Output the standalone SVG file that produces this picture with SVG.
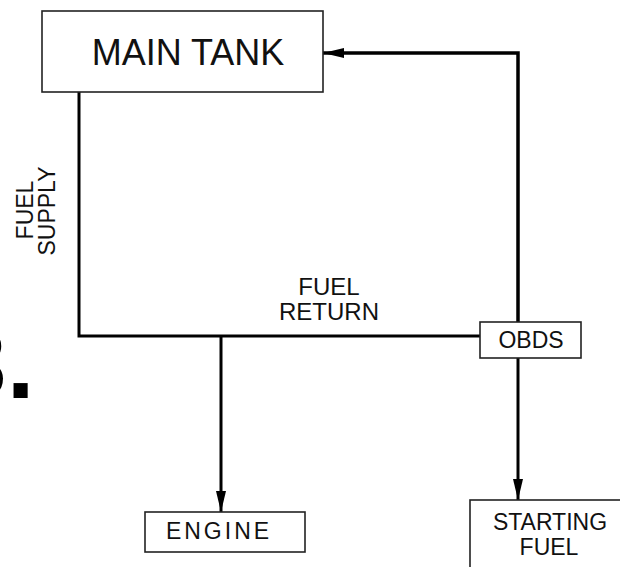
<svg xmlns="http://www.w3.org/2000/svg" width="620" height="567" viewBox="0 0 620 567">
<style>
.box{fill:#fff;stroke:#222;stroke-width:1.6}
.t{font-family:"Liberation Sans",Arial,sans-serif;fill:#111}
.ln{fill:none;stroke:#000;stroke-width:3}
</style>
<defs>
<marker id="ah" viewBox="0 0 21 10" refX="21" refY="5" markerWidth="21" markerHeight="10" markerUnits="userSpaceOnUse" orient="auto">
<path d="M0,0 L21,5 L0,10 z" fill="#000"/>
</marker>
</defs>
<rect width="620" height="567" fill="#fff"/>
<text x="-49" y="398" font-family="Liberation Sans,Arial,sans-serif" font-size="100" font-weight="bold" fill="#000">3<tspan dx="0">.</tspan></text>
<g id="connectors">
<path class="ln" d="M79,92 V336 H480"/>
<path class="ln" d="M221,336 V512" marker-end="url(#ah)"/>
<path class="ln" d="M518,358 V500" marker-end="url(#ah)"/>
<path class="ln" style="stroke-width:3.5" d="M518,322 V53 H323" marker-end="url(#ah)"/>
</g>
<g id="main-tank">
<rect class="box" x="42" y="11" width="281" height="81"/>
<text class="t" x="188" y="65" font-size="36" text-anchor="middle">MAIN TANK</text>
</g>
<g id="fuel-supply-label">
<text class="t" font-size="23" text-anchor="middle" transform="translate(33,210) rotate(-90)">FUEL</text>
<text class="t" font-size="23" text-anchor="middle" transform="translate(55,211) rotate(-90)">SUPPLY</text>
</g>
<g id="fuel-return-label">
<text class="t" font-size="24" text-anchor="middle" x="329" y="295">FUEL</text>
<text class="t" font-size="24" text-anchor="middle" x="329" y="320">RETURN</text>
</g>
<g id="obds">
<rect class="box" x="480" y="322" width="101" height="36"/>
<text class="t" x="531" y="348" font-size="23" text-anchor="middle">OBDS</text>
</g>
<g id="engine">
<rect class="box" x="145" y="512" width="160" height="40"/>
<text class="t" x="219" y="539" font-size="23" letter-spacing="3" text-anchor="middle">ENGINE</text>
</g>
<g id="starting-fuel">
<rect class="box" x="470" y="500" width="160" height="80"/>
<text class="t" x="550" y="530" font-size="23" text-anchor="middle">STARTING</text>
<text class="t" x="549" y="555" font-size="23" text-anchor="middle">FUEL</text>
</g>
</svg>
